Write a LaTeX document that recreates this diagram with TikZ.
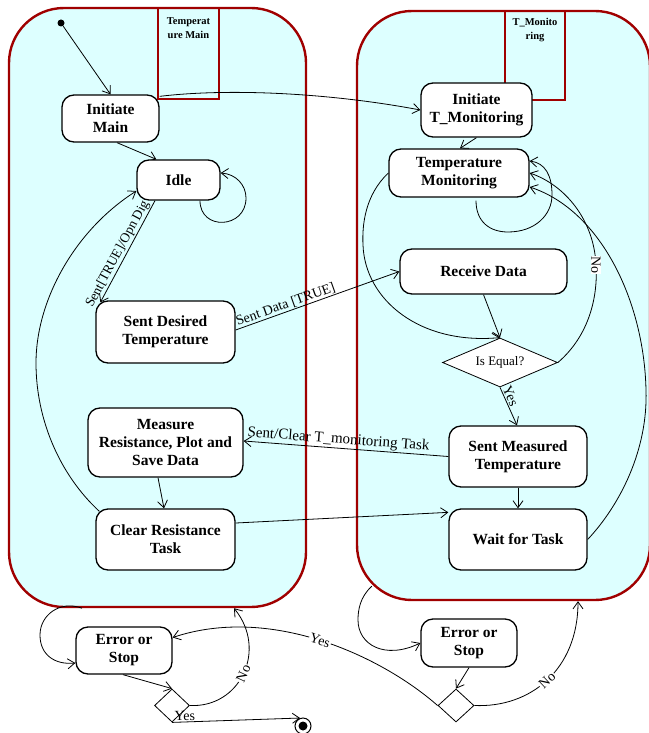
\documentclass[tikz,border=0pt]{standalone}
\usepackage{fontspec}
\setmainfont{Liberation Serif}
\usetikzlibrary{shapes.geometric,arrows.meta,calc}
\definecolor{contfill}{RGB}{221,255,255}
\definecolor{contline}{RGB}{160,0,0}
\pgfdeclarelayer{contlayer}
\pgfdeclarelayer{edgelayer}
\pgfsetlayers{contlayer,edgelayer,main}
\begin{document}
\begin{tikzpicture}[x=1pt,y=-1pt,
  state/.style={draw=black, line width=1.3pt, fill=white, rounded corners=12pt, align=center,
    font=\fontsize{15.5}{18}\selectfont\bfseries, inner sep=0pt},
  cont/.style={draw=contline, line width=2.4pt, fill=contfill, rounded corners=55pt, inner sep=0pt},
  tabbox/.style={draw=contline, line width=2pt},
  tabtext/.style={font=\fontsize{10.5}{14}\selectfont\bfseries, align=center, inner sep=0pt},
  conn/.style={line width=0.8pt, -{Straight Barb[length=7pt,width=10pt]}},
  lbl/.style={font=\fontsize{14}{16}\selectfont, inner sep=1pt},
  dec/.style={diamond, draw=black, line width=0.8pt, fill=white, inner sep=0pt}
]
\useasboundingbox (0,0) rectangle (648,733);
\begin{pgfonlayer}{contlayer}
  \fill[white] (0,0) rectangle (648,733);
  \node[cont, minimum width=297pt, minimum height=599pt] (lc) at (157.5,307.5) {};
  \node[cont, minimum width=293pt, minimum height=589pt] (rc) at (503.5,305.5) {};
  \draw[tabbox] (158,8) rectangle (219,99);
  \draw[tabbox] (505,11) rectangle (565,100);
  \node[tabtext] (tabL) at (188.5,28) {Temperat\\ure Main};
  \node[tabtext] (tabR) at (535,30) {T\_Monito\\ring};
\end{pgfonlayer}

% left states
\node[circle, fill=black, minimum size=7pt, inner sep=0pt] (initdot) at (61,23) {};
\node[state, minimum width=97pt, minimum height=47pt] (im) at (110.5,118.5) {Initiate\\Main};
\node[state, minimum width=83pt, minimum height=40pt] (idle) at (178.5,180) {Idle};
\node[state, minimum width=139pt, minimum height=62pt] (sdt) at (165.5,332) {Sent Desired\\Temperature};
\node[state, minimum width=155pt, minimum height=69pt] (mr) at (165.5,442.5) {Measure\\Resistance, Plot and\\Save Data};
\node[state, minimum width=139pt, minimum height=61pt] (crt) at (165.5,539.5) {Clear Resistance\\Task};
\node[state, minimum width=96pt, minimum height=47pt] (es1) at (124,650.5) {Error or\\Stop};
\node[dec, minimum width=35pt, minimum height=33pt] (d1) at (172,705.5) {};
\node[circle, draw=black, line width=1pt, fill=white, minimum size=16pt, inner sep=0pt] (fin) at (303,726) {};
\node[circle, fill=black, minimum size=9pt, inner sep=0pt] (fincore) at (fin) {};

% right states
\node[state, minimum width=111pt, minimum height=54pt] (itm) at (476.5,110) {Initiate\\T\_Monitoring};
\node[state, minimum width=140pt, minimum height=48pt] (tm) at (459,173) {Temperature\\Monitoring};
\node[state, minimum width=167pt, minimum height=45pt] (rd) at (483.5,271.5) {Receive Data};
\node[dec, aspect=2.35, minimum width=115pt, minimum height=49pt, font=\fontsize{13}{15}\selectfont] (eq) at (500,362.5) {Is Equal?};
\node[state, minimum width=138pt, minimum height=61pt] (smt) at (518,456.5) {Sent Measured\\Temperature};
\node[state, minimum width=138pt, minimum height=61pt] (wt) at (518,539.5) {Wait for Task};
\node[state, minimum width=96pt, minimum height=48pt] (es2) at (469,643) {Error or\\Stop};
\node[dec, minimum width=36pt, minimum height=33pt] (d2) at (456,705.5) {};

\begin{pgfonlayer}{edgelayer}
  \draw[conn] (initdot) -- (im.north);
  \draw[conn] ([xshift=6.5pt]im.south) -- ([xshift=20pt]idle.north west);
  \draw[conn] ([xshift=21.5pt]idle.south) .. controls (200,231) and (246,229) .. (246,198)
     .. controls (246,185) and (236,174) .. ([yshift=7pt]idle.east);
  \draw[conn] ([xshift=-23.5pt]idle.south) -- ([xshift=5pt,yshift=-2pt]sdt.north west)
     node[pos=0.56, sloped, above, font=\fontsize{13.5}{15}\selectfont, inner sep=1pt] {Sent[TRUE]/Opn Dig};
  \draw[conn] ([xshift=4pt,yshift=-3pt]crt.north west) .. controls (60,475) and (36,420) .. (36,363)
     .. controls (36,300) and (75,230) .. ([yshift=-11pt]idle.west);
  \draw[conn] ([xshift=-7.5pt]mr.south) -- ([xshift=-1.5pt]crt.north);
  \draw[conn] ([yshift=-2pt]im.north east) .. controls (230,88) and (330,93) .. (itm.west);
  \draw[conn] (itm.south) -- ([xshift=1pt]tm.north);
  \draw[conn] ([xshift=17pt,yshift=-3pt]tm.south) .. controls (476,222) and (490,232) .. (508,232)
     .. controls (535,232) and (552,215) .. (552,195)
     .. controls (552,175) and (545,163) .. ([yshift=12pt]tm.east);
  \draw[conn] (tm.west) .. controls (365,195) and (362,225) .. (363,245)
     .. controls (365,300) and (420,345) .. (eq.north);
  \draw[conn] ([yshift=2pt]sdt.east) -- (rd.west)
     node[pos=0.32, sloped, above, lbl] {Sent Data [TRUE]};
  \draw[conn] (rd.south) -- (eq.north);
  \draw[conn] (eq.south) -- ([xshift=-1pt]smt.north)
     node[pos=0.3, sloped, above, lbl] {Yes};
  \draw[conn] (eq.east) .. controls (590,335) and (598,295) .. (596,265)
     node[rotate=-90, fill=white, lbl, inner sep=0.5pt] {No}
     .. controls (594,220) and (565,185) .. (tm.east);
  \draw[conn] (wt.east) .. controls (620,505) and (648,450) .. (646,390)
     .. controls (644,300) and (600,210) .. ([yshift=-14pt]tm.east);
  \draw[conn] (smt.west) -- ([yshift=1.5pt]mr.east)
     node[pos=0.54, sloped, above, font=\fontsize{15}{17}\selectfont, inner sep=1pt] {Sent/Clear T\_monitoring Task};
  \draw[conn] (smt.south) -- (wt.north);
  \draw[conn] ([yshift=16.5pt]crt.east) -- ([yshift=-4pt]wt.north west);
  \draw[conn] ([xshift=-75.5pt]lc.south) .. controls (60,600) and (40,615) .. (40,635)
     .. controls (40,655) and (55,665) .. ([yshift=-12.5pt]es1.west);
  \draw[conn] ([xshift=-1pt]es1.south) -- (d1.north);
  \draw[conn] (d1.east) .. controls (240,708) and (268,650) .. ([xshift=76.5pt]lc.south)
     node[pos=0.5, sloped, fill=white, lbl] {No};
  \draw[conn] (d2.west) .. controls (380,655) and (270,605) .. ([yshift=13pt]es1.east)
     node[pos=0.5, sloped, fill=white, lbl] {Yes};
  \draw[conn] ([xshift=16pt,yshift=15pt]rc.south west) .. controls (360,597) and (358,610) .. (358,620)
     .. controls (358,645) and (385,660) .. (es2.west);
  \draw[conn] (es2.south) -- (d2.north);
  \draw[conn] (d2.east) .. controls (530,708) and (578,670) .. ([xshift=74.5pt]rc.south)
     node[pos=0.5, sloped, fill=white, lbl] {No};
\end{pgfonlayer}
\draw[conn] (d1.south) -- (fin.110) node[pos=0.1, above, lbl] {Yes};
\end{tikzpicture}
\end{document}
